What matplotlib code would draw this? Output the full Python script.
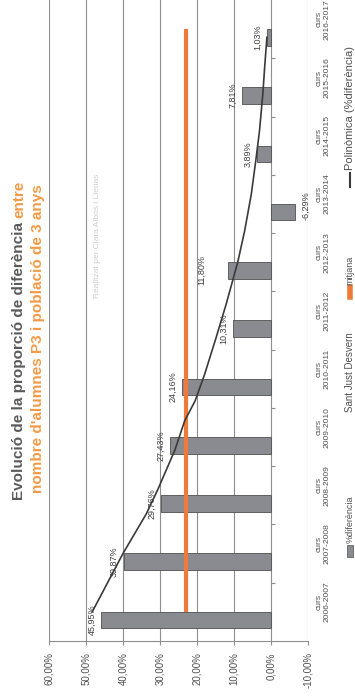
import matplotlib
matplotlib.use('Agg')
import matplotlib.pyplot as plt
import matplotlib.transforms as mtransforms
from matplotlib.patches import Rectangle
from matplotlib.lines import Line2D
from matplotlib.ticker import FuncFormatter
import numpy as np

# ---------------- data ----------------
categories = ['2006-2007', '2007-2008', '2008-2009', '2009-2010', '2010-2011',
              '2011-2012', '2012-2013', '2013-2014', '2014-2015', '2015-2016',
              '2016-2017']
pct_diff = [45.95, 39.87, 29.76, 27.43, 24.16, 10.31, 11.80, -6.29, 3.89, 7.81, 1.03]
mitjana = [22.97] * len(categories)
# polynomial trend line (category position, value %)
trend_pos = [0.0, 1.0, 1.68, 2.11, 2.77, 3.28, 3.62, 4.08, 4.71, 5.28, 5.74,
             6.02, 6.54, 7.17, 7.74, 8.25, 8.88, 9.34, 9.68, 9.86]
trend_val = [48.4, 40.1, 33.8, 30.6, 26.1, 23.4, 20.6, 18.0, 14.9, 12.2, 10.2,
             9.0, 7.2, 5.4, 4.2, 3.2, 2.3, 1.8, 1.4, 1.2]
value_ticks = [-10, 0, 10, 20, 30, 40, 50, 60]

title_1 = "Evolució de la proporció de diferència"
title_1b = "entre"
title_2 = "nombre d'alumnes P3 i població de 3 anys"
watermark = "Realitzat per Clara Albos i Llenas"
legend_labels = ["%diferència", "mitjana", "Polinòmica (%diferència)"]
axis_title = "Sant Just Desvern"

# ---------------- style ----------------
plt.rcParams['font.family'] = ['Liberation Sans', 'DejaVu Sans']
W, H = 355, 697
BAR_C = '#8a8b90'
BAR_E = '#505050'
ORANGE = '#ee7b3a'
TITLE_OR = '#f39a45'
TREND_C = '#3a3a3a'
GRID_C = '#8e8e8e'
TXT_C = '#505050'

def fx(x):
    return x / W

def fy(y):
    return 1 - y / H

fig = plt.figure(figsize=(W / 100, H / 100), dpi=100)
L, R, T, B = 49.3, 308.3, 0.0, 641.0
ax = fig.add_axes([fx(L), fy(B), fx(R) - fx(L), fy(T) - fy(B)])

pos = np.arange(len(categories))
bar_shift = -0.14
ax.barh(pos + bar_shift, pct_diff, height=0.286, color=BAR_C, edgecolor=BAR_E,
        linewidth=0.6, zorder=3)
ax.plot(mitjana, pos, color=ORANGE, lw=3.0, solid_capstyle='butt', zorder=4)
ax.plot(trend_val, trend_pos, color=TREND_C, lw=1.2, zorder=5)

ax.set_xlim(60, -10)
ax.set_ylim(-0.5, len(categories) - 0.5)
ax.set_xticks(value_ticks)
ax.xaxis.set_major_formatter(FuncFormatter(lambda v, p: f"{v:.2f}%".replace('.', ',')))
ax.tick_params(axis='x', rotation=90, labelsize=7, labelcolor=TXT_C, color=GRID_C,
               length=3, width=0.8, pad=5)
ax.set_yticks([])
ax.grid(axis='x', color=GRID_C, lw=0.8, zorder=0)
for s in ['left', 'top', 'right']:
    ax.spines[s].set_visible(False)
ax.spines['bottom'].set_color(GRID_C)
ax.spines['bottom'].set_linewidth(0.8)
# category tick marks on the zero line
ax.hlines(pos[1:] - 0.5, 0, -1.1, color=GRID_C, lw=0.8, zorder=2)

# data labels
label_extra = [0, 0, 0, 0, 0, 0, 12, 0, 0, 0, 0]
for i, v in enumerate(pct_diff):
    txt = f"{v:.2f}%".replace('.', ',')
    if v >= 0:
        ax.annotate(txt, xy=(v, pos[i] + bar_shift), xytext=(-3.5 - label_extra[i], 0),
                    textcoords='offset points', ha='right', va='center', rotation=90,
                    fontsize=6.5, color='#404040', zorder=6)
    else:
        ax.annotate(txt, xy=(v, pos[i] + bar_shift), xytext=(5, 5),
                    textcoords='offset points', ha='left', va='center', rotation=90,
                    fontsize=6.5, color='#404040', zorder=6)

# category labels
trans = mtransforms.blended_transform_factory(fig.transFigure, ax.transData)
for i, c in enumerate(categories):
    ax.text(fx(323), pos[i] + 0.17, f"curs\n{c}", transform=trans, rotation=90,
            ha='center', va='center', multialignment='center', fontsize=6.1,
            linespacing=1.1, color=TXT_C, clip_on=False)

# title
t1 = fig.text(fx(19), fy(500), title_1, rotation=90, ha='center', va='bottom',
              fontsize=11, color='#5a5a5a', fontweight='bold')
ax.annotate(title_1b, xy=(0.5, 1), xycoords=t1, xytext=(0, 3),
            textcoords='offset points', rotation=90, ha='center', va='bottom',
            fontsize=11, color=TITLE_OR, fontweight='bold', annotation_clip=False)
fig.text(fx(38), fy(493), title_2, rotation=90, ha='center', va='bottom',
         fontsize=11, color=TITLE_OR, fontweight='bold')

# watermark
fig.text(fx(97.5), fy(236), watermark, rotation=90, ha='center', va='center',
         fontsize=6, color='#cfcfcf')

# legend (rotated, built by hand)
fig.add_artist(Rectangle((fx(347), fy(557)), fx(6), 12 / H, facecolor=BAR_C,
                         edgecolor=BAR_E, lw=0.5, transform=fig.transFigure))
fig.text(fx(350), fy(543), legend_labels[0], rotation=90, ha='center', va='bottom',
         fontsize=6.5, color=TXT_C)
fig.text(fx(350), fy(372), axis_title, rotation=90, ha='center', va='center',
         fontsize=7, color=TXT_C)
fig.add_artist(Line2D([fx(350), fx(350)], [fy(297), fy(287)], color=ORANGE, lw=4,
                      transform=fig.transFigure))
fig.text(fx(350), fy(285), legend_labels[1], rotation=90, ha='center', va='bottom',
         fontsize=6.5, color=TXT_C)
fig.add_artist(Line2D([fx(350), fx(350)], [fy(187), fy(173)], color=TREND_C, lw=1.5,
                      transform=fig.transFigure))
fig.text(fx(350), fy(170), legend_labels[2], rotation=90, ha='center', va='bottom',
         fontsize=8, color=TXT_C)

fig.savefig('out.png', dpi=100, facecolor='white')
